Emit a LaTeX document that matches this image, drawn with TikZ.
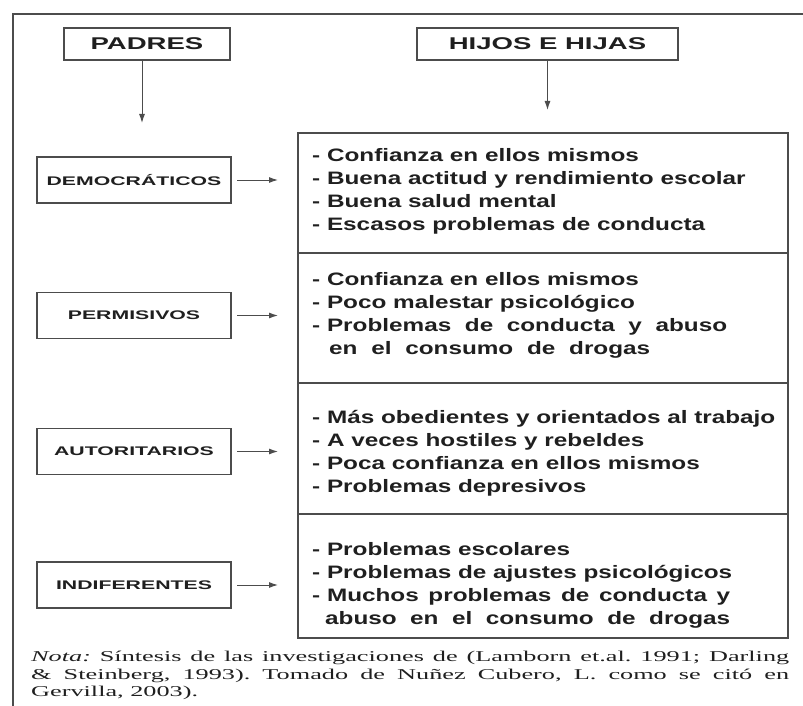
\documentclass[tikz,border=0pt]{standalone}
\usepackage{fontspec}
\setmainfont{Liberation Sans}
\newfontfamily\headfont[FakeStretch=1.62]{Liberation Sans}
\newfontfamily\labelfont[FakeStretch=1.7]{Liberation Sans}
\newfontfamily\itemfont[FakeStretch=1.35]{Liberation Sans}
\newfontfamily\notefont[FakeStretch=1.75]{Liberation Serif}
\usetikzlibrary{arrows.meta}
\definecolor{linegray}{gray}{0.3}
\definecolor{inkgray}{gray}{0.12}
\tikzstyle{border}=[draw=linegray, line width=1.5pt]
\tikzstyle{plainbox}=[draw=linegray, line width=1.3pt, inner sep=0, outer sep=0, text=inkgray]
\tikzstyle{headbox}=[plainbox, minimum height=32pt, font=\headfont\bfseries\fontsize{17}{20}\selectfont]
\tikzstyle{typebox}=[plainbox, minimum width=194pt, minimum height=46pt, font=\labelfont\bfseries\fontsize{12.5}{15}\selectfont]
\tikzstyle{sectbox}=[plainbox, minimum width=490pt]
\tikzstyle{itemtext}=[anchor=west, inner sep=0, align=left, text=inkgray, font=\itemfont\bfseries\fontsize{18}{23}\selectfont]
\tikzstyle{notetext}=[anchor=north west, inner sep=0, text width=758pt, align=justify, text=inkgray, font=\notefont\fontsize{15}{17.5}\selectfont\frenchspacing]
\tikzstyle{link}=[draw=linegray, line width=1pt, -{Latex[length=9pt,width=6pt]}]

\begin{document}
\begin{tikzpicture}[x=1pt, y=-1pt]
        \useasboundingbox (0,0) rectangle (803,706);
        \draw[border] (13,706) -- (13,14) -- (803,14);
        % encabezados
        \node[headbox, minimum width=166pt] (padres) at (147,44) {PADRES};
        \node[headbox, minimum width=261pt] (hijos) at (547.5,44) {HIJOS E HIJAS};
        % estilos parentales
        \node[typebox] (demo) at (134,180) {DEMOCRÁTICOS};
        \node[typebox] (perm) at (134,315.5) {PERMISIVOS};
        \node[typebox] (autor) at (134,451.5) {AUTORITARIOS};
        \node[typebox] (indif) at (134,585) {INDIFERENTES};
        % columna de hijos e hijas
        \node[sectbox, minimum height=120pt] (s1) at (543,193) {};
        \node[sectbox, minimum height=130pt] (s2) at (543,318) {};
        \node[sectbox, minimum height=131pt] (s3) at (543,448.5) {};
        \node[sectbox, minimum height=124pt] (s4) at (543,576) {};
        \node[itemtext] (t1) at (312,191) {- Confianza en ellos mismos\\- Buena actitud y rendimiento escolar\\- Buena salud mental\\- Escasos problemas de conducta};
        \node[itemtext] (t2) at (312,315) {- Confianza en ellos mismos\\- Poco malestar psicológico\\\makebox[415pt][s]{\mbox{- Problemas} de conducta y abuso}\\\hspace*{17pt}\makebox[321pt][s]{en el consumo de drogas}};
        \node[itemtext] (t3) at (312,453) {- Más obedientes y orientados al trabajo\\- A veces hostiles y rebeldes\\- Poca confianza en ellos mismos\\- Problemas depresivos};
        \node[itemtext] (t4) at (312,585) {- Problemas escolares\\- Problemas de ajustes psicológicos\\\makebox[418pt][s]{\mbox{- Muchos} problemas de conducta y}\\\hspace*{13pt}\makebox[405pt][s]{abuso en el consumo de drogas}};
        % flechas
        \draw[link, shorten >=34pt] ([xshift=-5pt]padres.south) -- ([xshift=-5pt]padres.south |- demo.north);
        \draw[link, shorten >=23pt] (hijos.south) -- (hijos.south |- s1.north);
        \draw[link, shorten <=6pt, shorten >=20pt] (demo.east) -- (demo.east -| s1.west);
        \draw[link, shorten <=6pt, shorten >=20pt] (perm.east) -- (perm.east -| s2.west);
        \draw[link, shorten <=6pt, shorten >=20pt] (autor.east) -- (autor.east -| s3.west);
        \draw[link, shorten <=6pt, shorten >=20pt] (indif.east) -- (indif.east -| s4.west);
        % nota
        \node[notetext] (nota) at (31,651) {\textit{Nota:} Síntesis de las investigaciones de (Lamborn et.al. 1991; Darling\linebreak \& Steinberg, 1993). Tomado de Nuñez Cubero, L. como se citó en\linebreak Gervilla, 2003).};
\end{tikzpicture}
\end{document}
